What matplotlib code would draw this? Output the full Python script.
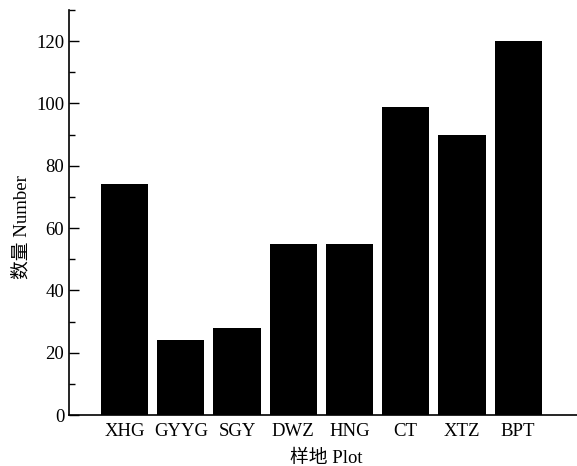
import matplotlib
matplotlib.use("Agg")
import matplotlib.pyplot as plt
from matplotlib.ticker import MultipleLocator

plots = ["XHG", "GYYG", "SGY", "DWZ", "HNG", "CT", "XTZ", "BPT"]
numbers = [74, 24, 28, 55, 55, 99, 90, 120]

plt.rcParams['font.family'] = ['Liberation Serif', 'Noto Sans CJK SC']
plt.rcParams['font.size'] = 13.5

fig = plt.figure(figsize=(5.77, 4.66), dpi=100)
ax = fig.add_axes([69 / 577, 1 - 415 / 466, 1 - 69 / 577 + 0.01, (415 - 10) / 466])

x = list(range(len(plots)))
ax.bar(x, numbers, width=0.84, color='black')

ax.set_xlim(-0.99, 8.15)
ax.set_ylim(0, 130)
ax.set_xticks(x)
ax.set_xticklabels(plots)
ax.yaxis.set_major_locator(MultipleLocator(20))
ax.yaxis.set_minor_locator(MultipleLocator(10))
ax.tick_params(axis='y', which='major', direction='in', length=7, width=1)
ax.tick_params(axis='y', which='minor', direction='in', length=4, width=1)
ax.tick_params(axis='x', length=0, pad=6)

for s in ['top', 'right']:
    ax.spines[s].set_visible(False)
for s in ['left', 'bottom']:
    ax.spines[s].set_linewidth(1.2)

ax.set_xlabel('样地 Plot', labelpad=7)
ax.set_ylabel('数量 Number')
ax.yaxis.set_label_coords(-0.075, 0.464)

fig.savefig('out.png', dpi=100)
